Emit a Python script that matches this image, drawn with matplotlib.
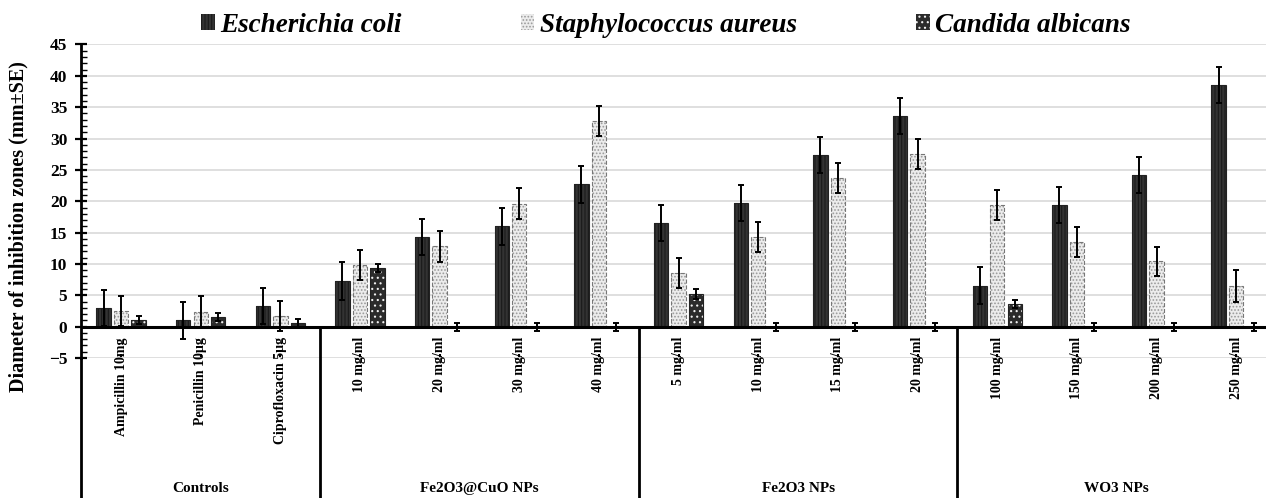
import matplotlib
matplotlib.use("Agg")
import matplotlib.pyplot as plt
from matplotlib.transforms import blended_transform_factory
from matplotlib.patches import Patch
import numpy as np

plt.rcParams['font.family'] = ['Liberation Serif', 'DejaVu Serif']
plt.rcParams['hatch.linewidth'] = 0.8

categories = ["Ampicillin 10mg", "Penicillin 10µg", "Ciprofloxacin 5µg",
              "10 mg/ml", "20 mg/ml", "30 mg/ml", "40 mg/ml",
              "5 mg/ml", "10 mg/ml", "15 mg/ml", "20 mg/ml",
              "100 mg/ml", "150 mg/ml", "200 mg/ml", "250 mg/ml"]
groups = ["Controls", "Fe2O3@CuO NPs", "Fe2O3 NPs", "WO3 NPs"]
group_sizes = [3, 4, 4, 4]

series_names = ["Escherichia coli", "Staphylococcus aureus", "Candida albicans"]
ecoli = [3.0, 1.0, 3.25, 7.3, 14.3, 16.0, 22.7, 16.5, 19.7, 27.4, 33.6, 6.5, 19.4, 24.2, 38.5]
ecoli_se = [2.9, 2.9, 2.9, 3.0, 2.9, 2.9, 2.9, 2.9, 2.9, 2.9, 2.9, 2.95, 2.9, 2.9, 2.9]
saureus = [2.55, 2.4, 1.7, 9.85, 12.8, 19.6, 32.8, 8.55, 14.35, 23.7, 27.6, 19.4, 13.5, 10.4, 6.5]
saureus_se = [2.4, 2.5, 2.4, 2.4, 2.5, 2.45, 2.4, 2.4, 2.4, 2.35, 2.4, 2.35, 2.35, 2.35, 2.5]
candida = [1.05, 1.5, 0.55, 9.35, 0, 0, 0, 5.2, 0, 0, 0, 3.6, 0, 0, 0]
candida_se = [0.65, 0.65, 0.7, 0.7, 0.65, 0.65, 0.65, 0.75, 0.65, 0.65, 0.65, 0.65, 0.65, 0.65, 0.65]

W, H = 1266, 498
fig = plt.figure(figsize=(W / 100, H / 100), dpi=100)
ax = fig.add_axes([81.2 / W, 1 - 358 / H, (1276 - 81.2) / W, (358 - 44.5) / H])

x = np.arange(len(categories))
bw = 0.18
off = 0.22

styles = [
    dict(face='#333333', hatch='|||||', hcol='#1a1a1a', edge='#222222', ls='-'),
    dict(face='#ececec', hatch='.....', hcol='#9a9a9a', edge='#777777', ls='--'),
    dict(face='#2b2b2b', hatch='...', hcol='#f0f0f0', edge='#222222', ls='-'),
]
data = [(ecoli, ecoli_se), (saureus, saureus_se), (candida, candida_se)]

for k, ((vals, se), st) in enumerate(zip(data, styles)):
    xs = x + (k - 1) * off
    ax.bar(xs, vals, bw, color=st['face'], edgecolor=st['hcol'], hatch=st['hatch'],
           linewidth=0, zorder=2)
    ax.bar(xs, vals, bw, fill=False, edgecolor=st['edge'], linewidth=0.8,
           linestyle=st['ls'], zorder=3)
    ax.errorbar(xs, vals, yerr=se, fmt='none', ecolor='black', elinewidth=1.4,
                capsize=2, capthick=1.4, zorder=4)

ax.set_xlim(-0.5, len(categories) - 0.5)
ax.set_ylim(-5, 45)
ax.set_yticks(np.arange(-5, 46, 5))
ax.set_yticks(np.arange(-5, 46, 1), minor=True)
ax.yaxis.grid(True, which='major', color='#dcdcdc', linewidth=1.3, zorder=0)
ax.set_axisbelow(True)
ax.tick_params(axis='y', which='major', direction='inout', length=8, width=1.6,
               labelsize=12.5, pad=6)
ax.tick_params(axis='y', which='minor', direction='in', length=4, width=1.0)
for lab in ax.get_yticklabels():
    lab.set_fontweight('bold')
ax.set_xticks(x)
ax.tick_params(axis='x', which='major', direction='in', length=3, width=1.5,
               labelbottom=False)
for s in ['top', 'right', 'bottom']:
    ax.spines[s].set_visible(False)
ax.spines['left'].set_linewidth(2)
ax.axhline(0, color='black', linewidth=2.2, zorder=5)

ax.set_ylabel("Diameter of inhibition zones (mm±SE)", fontsize=14.5,
              fontweight='bold')
ax.yaxis.set_label_coords(-0.0445, 0.418)

# lines below the axis
fig.canvas.draw()
zero_fig = fig.transFigure.inverted().transform(ax.transData.transform((0, 0)))[1]
bt = blended_transform_factory(ax.transData, fig.transFigure)
ax.plot([-0.5, -0.5], [0, 1 - 358 / H], transform=bt, color='black', lw=2,
        clip_on=False, zorder=6)
bounds = np.cumsum([0] + group_sizes) - 0.5
for b in bounds[1:]:
    ax.plot([b, b], [0, zero_fig], transform=bt, color='black', lw=2,
            clip_on=False, zorder=6)

for xi, c in zip(x, categories):
    ax.text(xi, 1 - 337 / H, c, transform=bt, rotation=90, ha='center', va='top',
            fontsize=10, fontweight='bold')
for i, g in enumerate(groups):
    cx = (bounds[i] + bounds[i + 1]) / 2
    ax.text(cx, 1 - 488 / H, g, transform=bt, ha='center', va='center',
            fontsize=11, fontweight='bold')

handles = [Patch(facecolor=st['face'], edgecolor=st['hcol'], hatch=st['hatch'],
                 linewidth=0) for st in styles]
leg = fig.legend(handles, series_names, loc='center', bbox_to_anchor=(666 / W, 1 - 25 / H),
                 ncol=3, frameon=False, prop=dict(size=19.5, weight='bold', style='italic'),
                 handlelength=0.5, handleheight=0.5, handletextpad=0.2,
                 columnspacing=4.4, borderpad=0)

fig.savefig("out.png", dpi=100)
